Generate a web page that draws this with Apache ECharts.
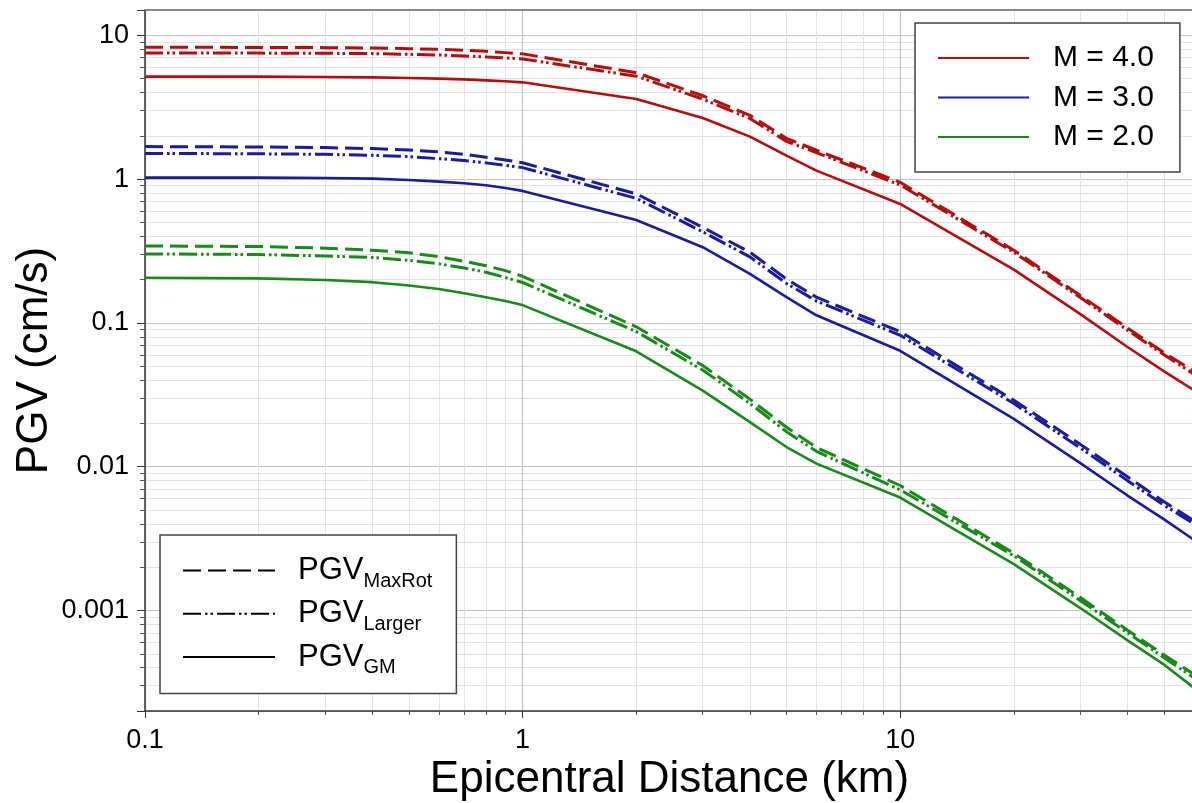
<!DOCTYPE html>
<html>
<head>
<meta charset="utf-8">
<script src="https://cdn.jsdelivr.net/npm/echarts@6/dist/echarts.min.js"></script>
<style>
  html, body { margin: 0; padding: 0; background: #fff; }
  #chart { width: 1192px; height: 803px; }
</style>
</head>
<body>
<div id="chart"></div>
<script>
// epicentral distance (km)
var distances = [0.1, 0.2, 0.3, 0.4, 0.5, 0.6, 0.7, 0.8, 0.9, 1, 2, 3, 4, 5, 6, 10, 20, 30, 40, 50, 60];

// M = 4.0
var m4GM     = [5.16, 5.16, 5.13, 5.10, 5.05, 5.00, 4.94, 4.86, 4.79, 4.71, 3.61, 2.66, 1.975, 1.456, 1.146, 0.672, 0.235, 0.115, 0.068, 0.046, 0.034];
var m4MaxRot = [8.26, 8.24, 8.21, 8.17, 8.08, 7.99, 7.87, 7.74, 7.58, 7.43, 5.5, 3.8, 2.78, 1.92, 1.59, 0.95, 0.32, 0.155, 0.092, 0.062, 0.046];
var m4Larger = [7.54, 7.52, 7.50, 7.46, 7.38, 7.30, 7.19, 7.08, 6.96, 6.85, 5.2, 3.6, 2.64, 1.83, 1.53, 0.91, 0.31, 0.15, 0.089, 0.060, 0.044];

// M = 3.0
var m3GM     = [1.024, 1.024, 1.019, 1.008, 0.987, 0.961, 0.936, 0.906, 0.868, 0.828, 0.52, 0.336, 0.219, 0.151, 0.113, 0.064, 0.0215, 0.0106, 0.0063, 0.0043, 0.0031];
var m3MaxRot = [1.683, 1.674, 1.656, 1.63, 1.596, 1.546, 1.487, 1.418, 1.36, 1.30, 0.79, 0.462, 0.31, 0.202, 0.151, 0.087, 0.029, 0.0143, 0.0085, 0.0057, 0.0042];
var m3Larger = [1.51, 1.50, 1.487, 1.464, 1.433, 1.388, 1.345, 1.297, 1.247, 1.202, 0.735, 0.43, 0.288, 0.188, 0.142, 0.082, 0.0275, 0.0135, 0.008, 0.0054, 0.0040];

// M = 2.0
var m2GM     = [0.206, 0.204, 0.199, 0.192, 0.182, 0.172, 0.161, 0.151, 0.142, 0.133, 0.0635, 0.0338, 0.0204, 0.0137, 0.0105, 0.0061, 0.0021, 0.00104, 0.00062, 0.00042, 0.00029];
var m2MaxRot = [0.343, 0.340, 0.331, 0.320, 0.307, 0.289, 0.268, 0.250, 0.231, 0.211, 0.094, 0.0505, 0.0295, 0.0188, 0.0136, 0.0074, 0.0025, 0.00123, 0.00073, 0.00049, 0.00036];
var m2Larger = [0.302, 0.299, 0.292, 0.285, 0.272, 0.258, 0.241, 0.225, 0.207, 0.191, 0.087, 0.047, 0.0275, 0.0175, 0.0128, 0.0069, 0.0024, 0.00117, 0.0007, 0.00047, 0.00034];

var magNames = ['M = 4.0', 'M = 3.0', 'M = 2.0'];
var magColors = ['#b60c0c', '#1a1aa2', '#178a17'];
var typeNames = ['MaxRot', 'Larger', 'GM'];

var FONT = 'Liberation Sans, Arial, sans-serif';
var dashStyle = [18, 7];
var dashDotStyle = [18, 4, 2.5, 3, 2.5, 4];

function pairs(ys) {
  return distances.map(function (d, i) { return [d, ys[i]]; });
}

function curve(name, color, ys, type, width) {
  return {
    name: name,
    type: 'line',
    symbol: 'none',
    silent: true,
    color: color,
    lineStyle: { color: color, width: width, type: type },
    data: pairs(ys),
    z: 3
  };
}

var series = [
  curve('M = 4.0', magColors[0], m4GM, 'solid', 2.6),
  curve('M = 3.0', magColors[1], m3GM, 'solid', 2.6),
  curve('M = 2.0', magColors[2], m2GM, 'solid', 2.6),
  curve('m4-maxrot', magColors[0], m4MaxRot, dashStyle, 3),
  curve('m4-larger', magColors[0], m4Larger, dashDotStyle, 3),
  curve('m3-maxrot', magColors[1], m3MaxRot, dashStyle, 3),
  curve('m3-larger', magColors[1], m3Larger, dashDotStyle, 3),
  curve('m2-maxrot', magColors[2], m2MaxRot, dashStyle, 3),
  curve('m2-larger', magColors[2], m2Larger, dashDotStyle, 3),
  // legend-only entries for the line styles
  curve('MaxRot', '#000', [], dashStyle, 3),
  curve('Larger', '#000', [], dashDotStyle, 3),
  curve('GM', '#000', [], 'solid', 3)
];

var chart = echarts.init(document.getElementById('chart'), null, { renderer: 'canvas' });

var option = {
  backgroundColor: '#fff',
  animation: false,
  textStyle: { fontFamily: FONT, color: '#000' },
  grid: { left: 145, top: 10, right: -2, bottom: 92, containLabel: false, outerBoundsMode: 'none' },
  legend: [
    {
      data: magNames,
      orient: 'vertical',
      left: 915,
      top: 23,
      padding: [20, 26, 20, 22],
      itemGap: 9.5,
      itemWidth: 91,
      itemHeight: 14,
      itemStyle: { opacity: 0 },
      backgroundColor: '#fff',
      borderColor: '#444',
      borderWidth: 1.5,
      selectedMode: false,
      textStyle: { fontFamily: FONT, fontSize: 30, lineHeight: 30, color: '#000', padding: [0, 0, 0, 19] }
    },
    {
      data: typeNames,
      orient: 'vertical',
      left: 160,
      top: 535,
      padding: [20, 24, 16, 22],
      itemGap: 7.3,
      itemWidth: 92,
      itemHeight: 14,
      itemStyle: { opacity: 0 },
      backgroundColor: '#fff',
      borderColor: '#444',
      borderWidth: 1.5,
      selectedMode: false,
      formatter: function (name) { return '{main|PGV}{sub|' + name + '}'; },
      textStyle: {
        fontFamily: FONT,
        color: '#000',
        rich: {
          main: { fontFamily: FONT, fontSize: 31, lineHeight: 31, color: '#000', padding: [0, 0, 0, 18] },
          sub: { fontFamily: FONT, fontSize: 20, color: '#000', padding: [21, 0, 0, 0] }
        }
      }
    }
  ],
  xAxis: [
    {
      type: 'log',
      logBase: 10,
      min: 0.1,
      max: 60,
      name: 'Epicentral Distance (km)',
      nameLocation: 'middle',
      nameGap: 47,
      nameMoveOverlap: false,
      nameTextStyle: { fontFamily: FONT, fontSize: 44, color: '#000' },
      axisLine: { show: true, onZero: false, lineStyle: { color: '#333', width: 1.5 } },
      axisTick: { show: true, inside: false, length: 7, lineStyle: { color: '#333' } },
      minorTick: { show: true, splitNumber: 9, length: 4, lineStyle: { color: '#555' } },
      axisLabel: { fontFamily: FONT, fontSize: 27, color: '#000', margin: 16, showMaxLabel: false },
      splitLine: { show: true, lineStyle: { color: '#c2c2c2', width: 1.2 } },
      minorSplitLine: { show: true, lineStyle: { color: '#e3e3e3', width: 1 } }
    },
    {
      type: 'log',
      logBase: 10,
      min: 0.1,
      max: 60,
      position: 'top',
      axisLine: { show: true, onZero: false, lineStyle: { color: '#8a8a8a', width: 2 } },
      axisTick: { show: false },
      axisLabel: { show: false },
      splitLine: { show: false }
    }
  ],
  yAxis: {
    type: 'log',
    logBase: 10,
    min: 0.0002,
    max: 15,
    name: 'PGV (cm/s)',
    nameLocation: 'middle',
    nameGap: 88,
    nameMoveOverlap: false,
    nameTextStyle: { fontFamily: FONT, fontSize: 44, color: '#000' },
    axisLine: { show: true, onZero: false, lineStyle: { color: '#333', width: 1.5 } },
    axisTick: { show: true, inside: false, length: 8, lineStyle: { color: '#333' } },
    minorTick: { show: true, splitNumber: 9, length: 5, lineStyle: { color: '#555' } },
    axisLabel: { fontFamily: FONT, fontSize: 27, color: '#000', margin: 16, showMinLabel: false, showMaxLabel: false },
    splitLine: { show: true, lineStyle: { color: '#c2c2c2', width: 1.2 } },
    minorSplitLine: { show: true, lineStyle: { color: '#e3e3e3', width: 1 } }
  },
  series: series
};

chart.setOption(option);
</script>
</body>
</html>
